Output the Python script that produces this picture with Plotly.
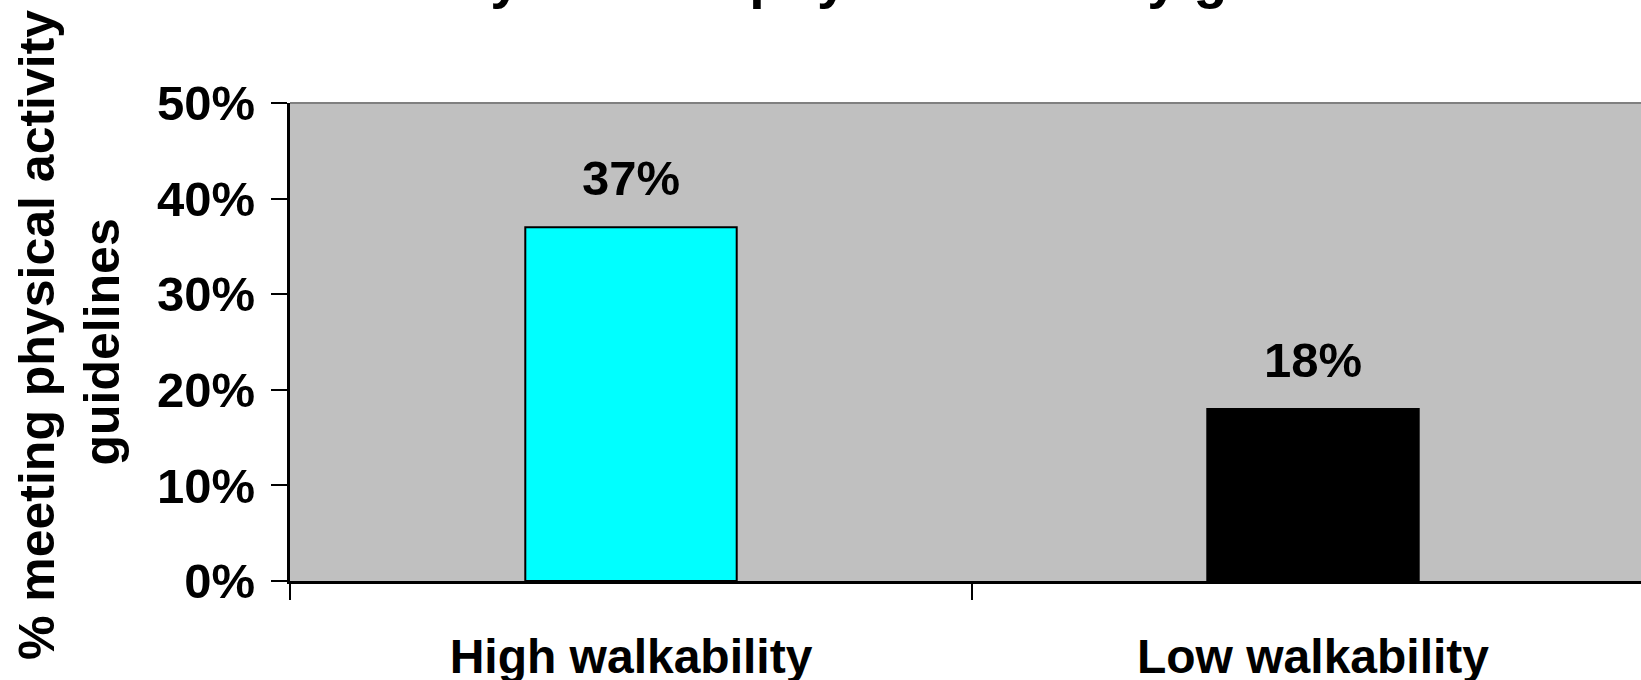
import plotly.graph_objects as go

# Share of adults meeting physical activity guidelines, by neighbourhood walkability
categories = ["High walkability", "Low walkability"]
values = [37, 18]
bar_colors = ["#00FFFF", "#000000"]
y_ticks = [0, 10, 20, 30, 40, 50]
y_tick_labels = [f"{t}%" for t in y_ticks]

title_text = ("Residents of high-walkability neighborhoods<br>"
              "more likely to meet physical activity guidelines")
y_title_text = "\u00a0% meeting physical activity<br>guidelines"

FONT = "Arial, 'Liberation Sans', sans-serif"
W, H = 1641, 680
ML, MR, MT, MB = 290, 0, 103, 99
plot_w = W - ML - MR
plot_h = H - MT - MB
cat_px = 682  # pixel width of one category slot

fig = go.Figure()
fig.add_trace(go.Bar(
    x=categories,
    y=values,
    width=0.31,
    marker=dict(color=bar_colors, line=dict(color="#000000", width=2)),
    hoverinfo="skip",
))

# value labels above each bar
for c, v in zip(categories, values):
    fig.add_annotation(
        x=c, y=v, xref="x", yref="y",
        text=f"<b>{v}%</b>", showarrow=False,
        yanchor="bottom", yshift=20,
        font=dict(family=FONT, size=49, color="#000000"),
    )

# chart title (sits above the visible page area)
fig.add_annotation(
    x=(849 - ML) / plot_w, y=1, xref="paper", yref="paper",
    text=f"<b>{title_text}</b>", showarrow=False,
    xanchor="center", yanchor="bottom", yshift=92,
    font=dict(family=FONT, size=55.5, color="#000000"),
)

# y axis title
fig.add_annotation(
    x=(69 - ML) / plot_w, y=0.5, xref="paper", yref="paper",
    text=f"<b>{y_title_text}</b>", showarrow=False, textangle=-90,
    xanchor="center", yanchor="middle",
    font=dict(family=FONT, size=50, color="#000000"),
)

# top border of the plot area
fig.add_shape(type="line", xref="paper", yref="paper",
              x0=0, x1=1, y0=1, y1=1,
              line=dict(color="#808080", width=2))

fig.update_layout(
    width=W, height=H, autosize=False,
    margin=dict(l=ML, r=MR, t=MT, b=MB, pad=0, autoexpand=False),
    paper_bgcolor="#FFFFFF",
    plot_bgcolor="#C0C0C0",
    showlegend=False,
    font=dict(family=FONT, color="#000000"),
)

fig.update_xaxes(
    type="category",
    tickmode="array",
    tickvals=categories,
    ticktext=[f"<b>{c}</b>" for c in categories],
    tickson="boundaries",
    range=[-0.5, -0.5 + plot_w / cat_px],
    ticks="outside", ticklen=16, tickwidth=2, tickcolor="#000000",
    showline=True, linecolor="#000000", linewidth=3,
    showgrid=False, zeroline=False, automargin=False,
    tickfont=dict(family=FONT, size=48, color="#000000"),
    ticklabelstandoff=31,
)

fig.update_yaxes(
    range=[0, 50],
    tickmode="array",
    tickvals=y_ticks,
    ticktext=[f"<b>{t}</b>" for t in y_tick_labels],
    ticks="outside", ticklen=16, tickwidth=2, tickcolor="#000000",
    showline=True, linecolor="#000000", linewidth=3,
    showgrid=False, zeroline=False, automargin=False,
    tickfont=dict(family=FONT, size=49, color="#000000"),
    ticklabelstandoff=6,
)

fig.write_html("out.html")
